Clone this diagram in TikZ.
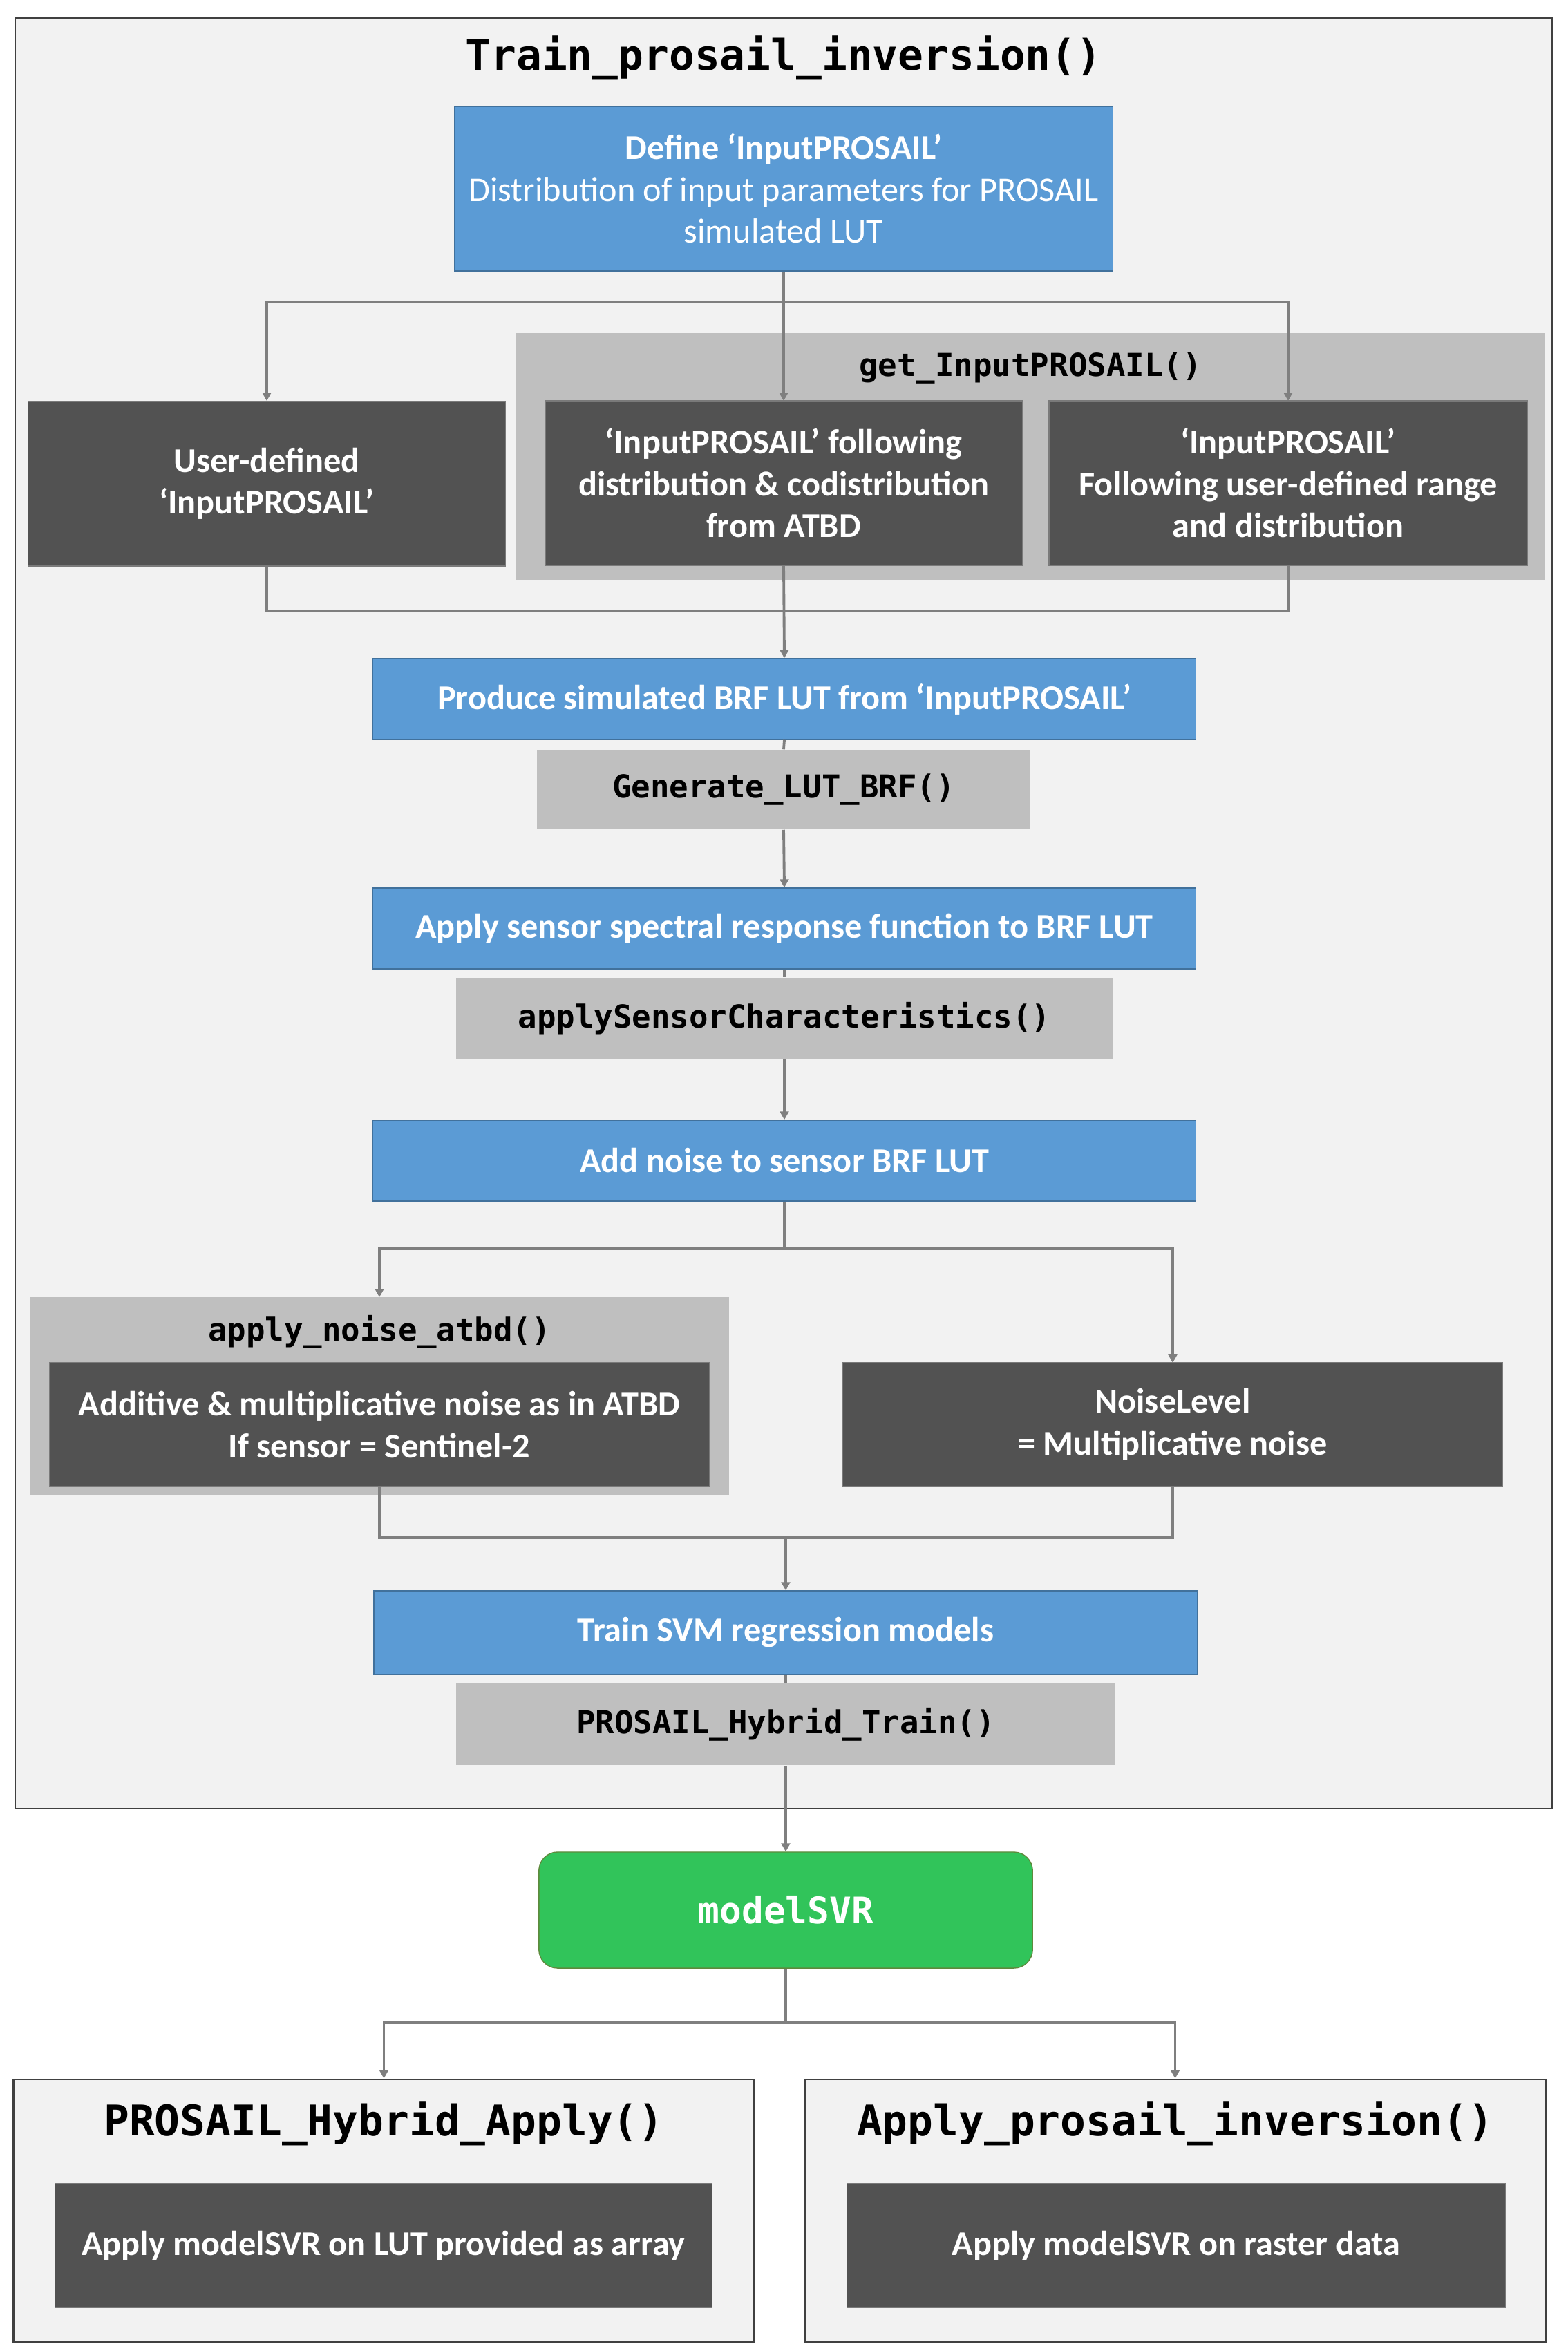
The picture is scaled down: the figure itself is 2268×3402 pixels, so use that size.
\documentclass[tikz,border=0pt]{standalone}
\usepackage{fontspec}
\setmainfont{Carlito}
\newfontfamily\monof{DejaVu Sans Mono}
\usetikzlibrary{arrows.meta}
\definecolor{bgc}{HTML}{F2F2F2}
\definecolor{framec}{HTML}{404040}
\definecolor{bluef}{HTML}{5B9BD5}
\definecolor{blued}{HTML}{41719C}
\definecolor{darkf}{HTML}{525252}
\definecolor{darkd}{HTML}{7A7A7A}
\definecolor{lgray}{HTML}{BFBFBF}
\definecolor{greenf}{HTML}{31C45A}
\definecolor{greend}{HTML}{5E8A3C}
\definecolor{connc}{HTML}{7F7F7F}
\tikzset{
  frame/.style={draw=framec,line width=0.8pt,fill=bgc},
  bluebox/.style={draw=blued,line width=0.4pt,fill=bluef,text=white,align=center,inner sep=0pt,font=\fontsize{14.3}{17.2}\selectfont\bfseries},
  darkbox/.style={draw=darkd,line width=0.4pt,fill=darkf,text=white,align=center,inner sep=0pt,font=\fontsize{14.3}{17.2}\selectfont\bfseries},
  graybox/.style={fill=lgray,inner sep=0pt},
  codelbl/.style={font=\monof\bfseries\fontsize{13}{15}\selectfont,text=black,inner sep=0pt},
  bigcode/.style={font=\monof\bfseries\fontsize{17.4}{20}\selectfont,text=black,inner sep=0pt},
  conn/.style={draw=connc,line width=1.1pt},
  arr/.style={conn,-{Triangle[length=3.4pt,width=3.6pt]}},
}
\begin{document}
\begin{tikzpicture}[x=0.01cm,y=-0.01cm]
\useasboundingbox (0,0) rectangle (2268,3402);
% outer frame
\path[frame] (22,26) rectangle (2246,2617);
\node[bigcode] (title) at (1134,84) {Train\_prosail\_inversion()};
% top
\node[bluebox,minimum width=9.52cm,minimum height=2.38cm] (define) at (1134,273)
  {Define ‘InputPROSAIL’\\\mdseries Distribution of input parameters for PROSAIL\\\mdseries simulated LUT};
\node[graybox,minimum width=14.89cm,minimum height=3.57cm] (getgray) at (1491.5,660.5) {};
\node[codelbl] (getlbl) at (1491,533) {get\_InputPROSAIL()};
\coordinate (b1) at (1134,437);
\draw[arr] (define.south) -- (1134,580);
\draw[arr] (b1) -| (386,580);
\draw[arr] (b1) -| (1864,580);
\node[darkbox,minimum width=6.91cm,minimum height=2.38cm] (user) at (386,700)
  {User-defined\\‘InputPROSAIL’};
\node[darkbox,minimum width=6.90cm,minimum height=2.38cm] (mid) at (1134,699)
  {‘InputPROSAIL’ following\\distribution \& codistribution\\from ATBD};
\node[darkbox,minimum width=6.92cm,minimum height=2.38cm] (right) at (1864,699)
  {‘InputPROSAIL’\\Following user-defined range\\and distribution};
\coordinate (m1) at (1134,884);
\draw[conn] (user.south) |- (m1);
\draw[conn] (right.south) |- (m1);
% produce
\node[bluebox,minimum width=11.90cm,minimum height=1.17cm] (produce) at (1135,1011.5)
  {Produce simulated BRF LUT from ‘InputPROSAIL’};
\draw[arr] (mid.south) -- (produce.north);
\node[graybox,minimum width=7.14cm,minimum height=1.15cm,codelbl] (gen) at (1134,1142.5) {Generate\_LUT\_BRF()};
\draw[conn] (produce.south) -- (gen.north);
\node[bluebox,minimum width=11.90cm,minimum height=1.17cm] (sensor) at (1135,1343.5)
  {Apply sensor spectral response function to BRF LUT};
\draw[arr] (gen.south) -- (sensor.north);
\node[graybox,minimum width=9.50cm,minimum height=1.17cm,codelbl] (apsc) at (1135,1473.5) {applySensorCharacteristics()};
\draw[conn] (sensor.south) -- (apsc.north);
\node[bluebox,minimum width=11.90cm,minimum height=1.17cm] (noise) at (1135,1679.5)
  {Add noise to sensor BRF LUT};
\draw[arr] (apsc.south) -- (noise.north);
% noise branch
\node[graybox,minimum width=10.12cm,minimum height=2.86cm] (noisegray) at (549,2020) {};
\node[codelbl] (noiselbl) at (549,1927) {apply\_noise\_atbd()};
\coordinate (b2) at (1135,1807);
\draw[conn] (noise.south) -- (b2);
\draw[arr] (b2) -| (549,1877);
\draw[arr] (b2) -| (1697,1972);
\node[darkbox,minimum width=9.54cm,minimum height=1.79cm] (additive) at (549,2061.5)
  {Additive \& multiplicative noise as in ATBD\\If sensor = Sentinel-2};
\node[darkbox,minimum width=9.54cm,minimum height=1.79cm] (nlevel) at (1697,2061.5)
  {NoiseLevel\\= Multiplicative noise};
\coordinate (m2) at (1137,2225);
\draw[conn] (additive.south) |- (m2);
\draw[conn] (nlevel.south) |- (m2);
\node[bluebox,minimum width=11.91cm,minimum height=1.21cm] (train) at (1137,2362.5)
  {Train SVM regression models};
\draw[arr] (m2) -- (train.north);
\node[graybox,minimum width=9.54cm,minimum height=1.18cm,codelbl] (pht) at (1137,2495) {PROSAIL\_Hybrid\_Train()};
\draw[conn] (train.south) -- (pht.north);
% model
\node[draw=greend,line width=0.4pt,fill=greenf,rounded corners=0.27cm,minimum width=7.14cm,minimum height=1.68cm,inner sep=0pt,text=white,font=\monof\bfseries\fontsize{15}{18}\selectfont] (model) at (1137,2764) {modelSVR};
\draw[arr] (pht.south) -- (model.north);
\coordinate (b3) at (1137,2927);
\draw[conn] (model.south) -- (b3);
% bottom boxes
\node[frame,minimum width=10.71cm,minimum height=3.80cm,inner sep=0pt] (bl) at (555.5,3199) {};
\node[frame,minimum width=10.71cm,minimum height=3.80cm,inner sep=0pt] (br) at (1700.5,3199) {};
\draw[arr] (b3) -| (bl.north);
\draw[arr] (b3) -| (br.north);
\node[bigcode] (bltitle) at (555.5,3073) {PROSAIL\_Hybrid\_Apply()};
\node[bigcode] (brtitle) at (1700.5,3073) {Apply\_prosail\_inversion()};
\node[darkbox,minimum width=9.50cm,minimum height=1.79cm] (bldark) at (555,3249.5)
  {Apply modelSVR on LUT provided as array};
\node[darkbox,minimum width=9.52cm,minimum height=1.79cm] (brdark) at (1702,3249.5)
  {Apply modelSVR on raster data};
\end{tikzpicture}
\end{document}
